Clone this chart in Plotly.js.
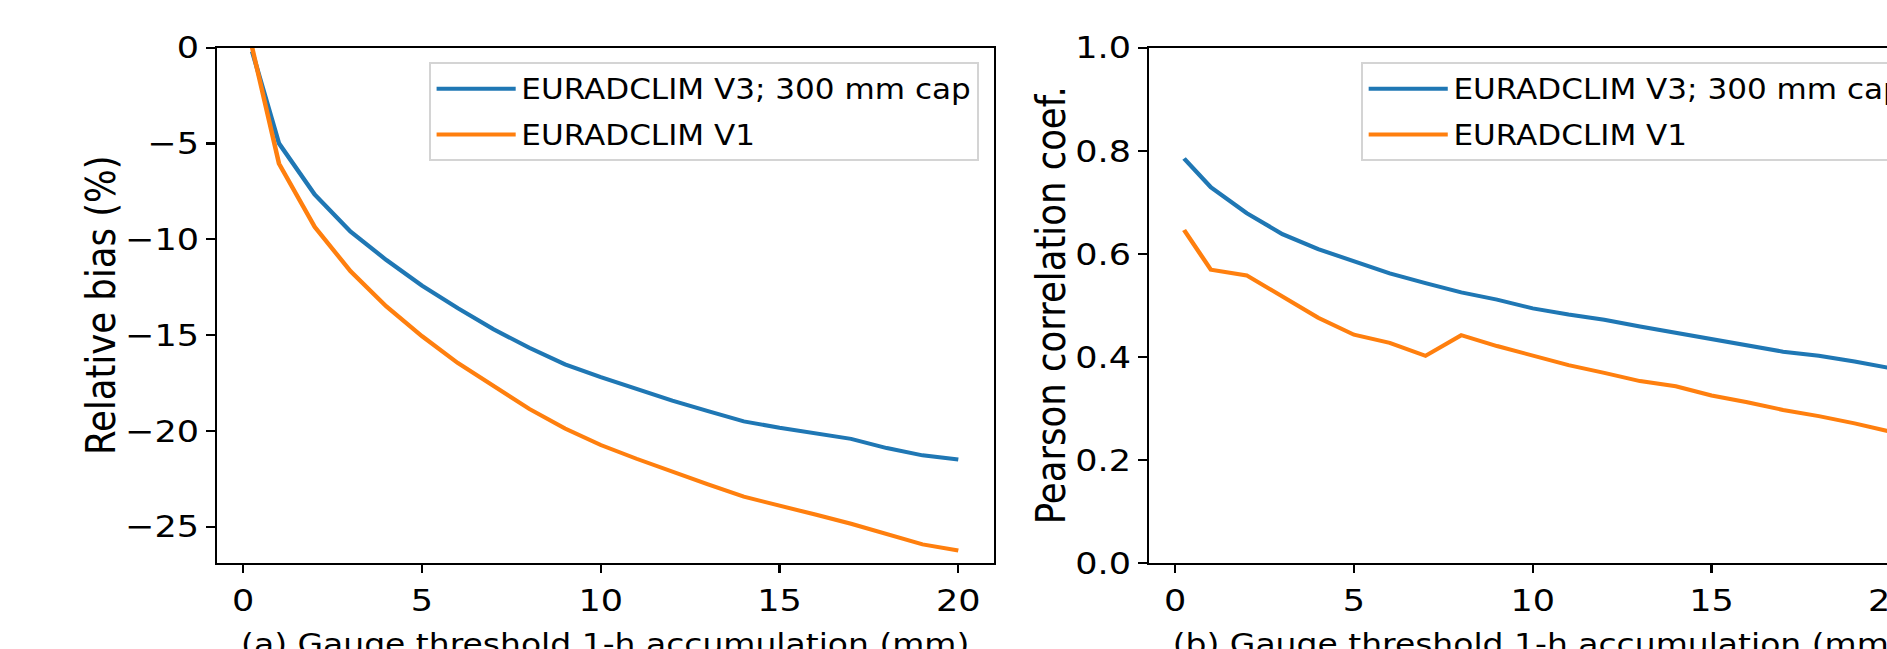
<!DOCTYPE html>
<html>
<head>
<meta charset="utf-8">
<script src="https://cdn.plot.ly/plotly-3.0.1.min.js"></script>
<style>
  html, body { margin: 0; padding: 0; overflow: hidden; background: #fff; width: 1887px; height: 649px; }
  #plot { width: 1720px; height: 700px; transform: scaleX(1.13); transform-origin: 0 0; }
</style>
</head>
<body>
<div id="plot"></div>
<script>
// Gauge threshold 1-h accumulation (mm)
const thresholds = [0.25, 1, 2, 3, 4, 5, 6, 7, 8, 9, 10, 11, 12, 13, 14, 15, 16, 17, 18, 19, 20];

// (a) Relative bias (%)
const biasV3 = [-0.2, -5.0, -7.67, -9.6, -11.08, -12.42, -13.6, -14.7, -15.67, -16.53, -17.2, -17.8, -18.43, -18.97, -19.51, -19.84, -20.14, -20.42, -20.9, -21.28, -21.5];
const biasV1 = [0.0, -6.05, -9.36, -11.67, -13.5, -15.06, -16.46, -17.65, -18.86, -19.88, -20.74, -21.46, -22.15, -22.8, -23.44, -23.88, -24.37, -24.85, -25.4, -25.93, -26.25];

// (b) Pearson correlation coefficient
const corrV3 = [0.785, 0.729, 0.679, 0.638, 0.609, 0.585, 0.562, 0.543, 0.525, 0.511, 0.494, 0.482, 0.472, 0.459, 0.447, 0.435, 0.422, 0.410, 0.402, 0.391, 0.378];
const corrV1 = [0.646, 0.569, 0.558, 0.518, 0.476, 0.443, 0.427, 0.402, 0.442, 0.421, 0.403, 0.384, 0.369, 0.353, 0.343, 0.325, 0.312, 0.297, 0.285, 0.271, 0.255];

const seriesNames = ["EURADCLIM V3; 300 mm cap", "EURADCLIM V1"];
const xTitles = ["(a) Gauge threshold 1-h accumulation (mm)", "(b) Gauge threshold 1-h accumulation (mm)"];
const yTitles = ["Relative bias (%)", "Pearson correlation coef."];
const xTickVals = [0, 5, 10, 15, 20];
const biasTickVals = [0, -5, -10, -15, -20, -25];
const corrTickVals = [0, 0.2, 0.4, 0.6, 0.8, 1.0];

const BLUE = "#1f77b4", ORANGE = "#ff7f0e";
const FONT = "DejaVu Sans, sans-serif";

const traces = [
  {x: thresholds, y: biasV3, name: seriesNames[0], mode: "lines", line: {color: BLUE, width: 4}, xaxis: "x", yaxis: "y", legend: "legend", legendgroup: "a1"},
  {x: thresholds, y: biasV1, name: seriesNames[1], mode: "lines", line: {color: ORANGE, width: 4}, xaxis: "x", yaxis: "y", legend: "legend", legendgroup: "a2"},
  {x: thresholds, y: corrV3, name: seriesNames[0], mode: "lines", line: {color: BLUE, width: 4}, xaxis: "x2", yaxis: "y2", legend: "legend2", legendgroup: "b1"},
  {x: thresholds, y: corrV1, name: seriesNames[1], mode: "lines", line: {color: ORANGE, width: 4}, xaxis: "x2", yaxis: "y2", legend: "legend2", legendgroup: "b2"}
];

const axCommon = {
  showline: true, mirror: true, linecolor: "#000", linewidth: 2,
  ticks: "outside", tickcolor: "#000", showgrid: false, zeroline: false,
  tickfont: {family: FONT, size: 31, color: "#000"}
};

const legendCommon = {
  font: {family: FONT, size: 27.5, color: "#000"},
  bgcolor: "rgba(255,255,255,0.8)", bordercolor: "#d4d4d4", borderwidth: 2,
  xanchor: "right", yanchor: "top", y: 0.911, tracegroupgap: 7, itemwidth: 70
};

const yTitleFont = {family: FONT, size: 35.5, color: "#000"};
const xTitleFont = {family: FONT, size: 29.2, color: "#000"};

const layout = {
  width: 1720, height: 700,
  margin: {l: 0, r: 0, t: 0, b: 0},
  paper_bgcolor: "#fff", plot_bgcolor: "#fff",
  font: {family: FONT, color: "#000"},
  showlegend: true,
  xaxis: Object.assign({}, axCommon, {
    domain: [0.11157, 0.51122], anchor: "y", range: [-0.7375, 20.9875],
    tickvals: xTickVals, ticklen: 8.4, tickwidth: 1.95,
    title: {text: xTitles[0], font: xTitleFont, standoff: 17}
  }),
  yaxis: Object.assign({}, axCommon, {
    domain: [0.1957, 0.932], anchor: "x", range: [-26.9, 0],
    tickvals: biasTickVals, ticklen: 7.5, tickwidth: 2.2
  }),
  xaxis2: Object.assign({}, axCommon, {
    domain: [0.59105, 0.99076], anchor: "y2", range: [-0.7375, 20.9875],
    tickvals: xTickVals, ticklen: 8.4, tickwidth: 1.95,
    title: {text: xTitles[1], font: xTitleFont, standoff: 17}
  }),
  yaxis2: Object.assign({}, axCommon, {
    domain: [0.1957, 0.932], anchor: "x2", range: [0, 1],
    tickvals: corrTickVals, tickformat: ".1f", ticklen: 7.5, tickwidth: 2.2
  }),
  annotations: [
    {text: yTitles[0], xref: "paper", yref: "paper", x: 0.05163, y: 0.5639, xanchor: "center", yanchor: "middle",
     textangle: -90, showarrow: false, font: yTitleFont},
    {text: yTitles[1], xref: "paper", yref: "paper", x: 0.54076, y: 0.5639, xanchor: "center", yanchor: "middle",
     textangle: -90, showarrow: false, font: yTitleFont}
  ],
  legend: Object.assign({}, legendCommon, {x: 0.5037}),
  legend2: Object.assign({}, legendCommon, {x: 0.98326})
};

Plotly.newPlot("plot", traces, layout, {displayModeBar: false, staticPlot: true});
</script>
</body>
</html>
